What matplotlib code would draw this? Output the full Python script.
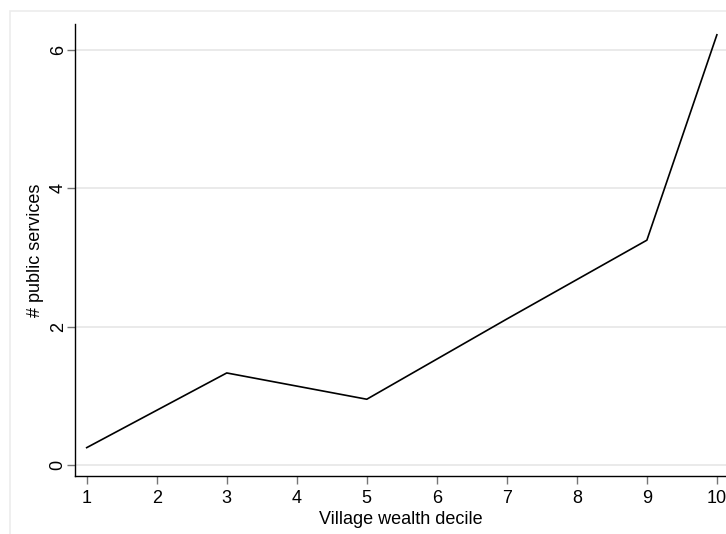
import matplotlib
matplotlib.use('Agg')
import matplotlib.pyplot as plt
from matplotlib.patches import Rectangle

# data
decile = [1, 2, 3, 4, 5, 6, 7, 8, 9, 10]
services = [0.25, 0.79, 1.33, 1.14, 0.95, 1.53, 2.11, 2.68, 3.25, 6.22]
yticks = [0, 2, 4, 6]

plt.rcParams['font.family'] = ['Liberation Sans', 'DejaVu Sans']

fig = plt.figure(figsize=(7.26, 5.34), dpi=100)
fig.patch.set_facecolor('white')

# light outer frame (graph region), cut at right and bottom
fig.patches.append(Rectangle((10 / 726, -0.05), 1.1, (534 - 11) / 534 + 0.05,
                             transform=fig.transFigure, fill=False,
                             edgecolor='#ececec', linewidth=1.2))

ax = fig.add_axes([75 / 726, 58 / 534, 651 / 726, 452 / 534])
ax.plot(decile, services, color='black', linewidth=1.2)

ax.set_xlim(0.833, 10.13)
ax.set_ylim(-0.16, 6.376)
ax.set_xticks(decile)
ax.set_yticks(yticks)
ax.set_yticklabels([str(t) for t in yticks], rotation=90, va='center')
ax.grid(axis='y', color='#e6e6e6', linewidth=1.2)
ax.set_axisbelow(True)

for s in ['top', 'right']:
    ax.spines[s].set_visible(False)
for s in ['left', 'bottom']:
    ax.spines[s].set_linewidth(1.0)
    ax.spines[s].set_color('black')

ax.tick_params(direction='out', length=6, width=1.0, color='#777777',
               labelsize=13)
ax.tick_params(axis='x', pad=4)
ax.tick_params(axis='y', pad=0)
ax.set_xlabel('Village wealth decile', fontsize=13, labelpad=3)
ax.set_ylabel('# public services', fontsize=13, labelpad=4)

plt.savefig('out.png', dpi=100)
